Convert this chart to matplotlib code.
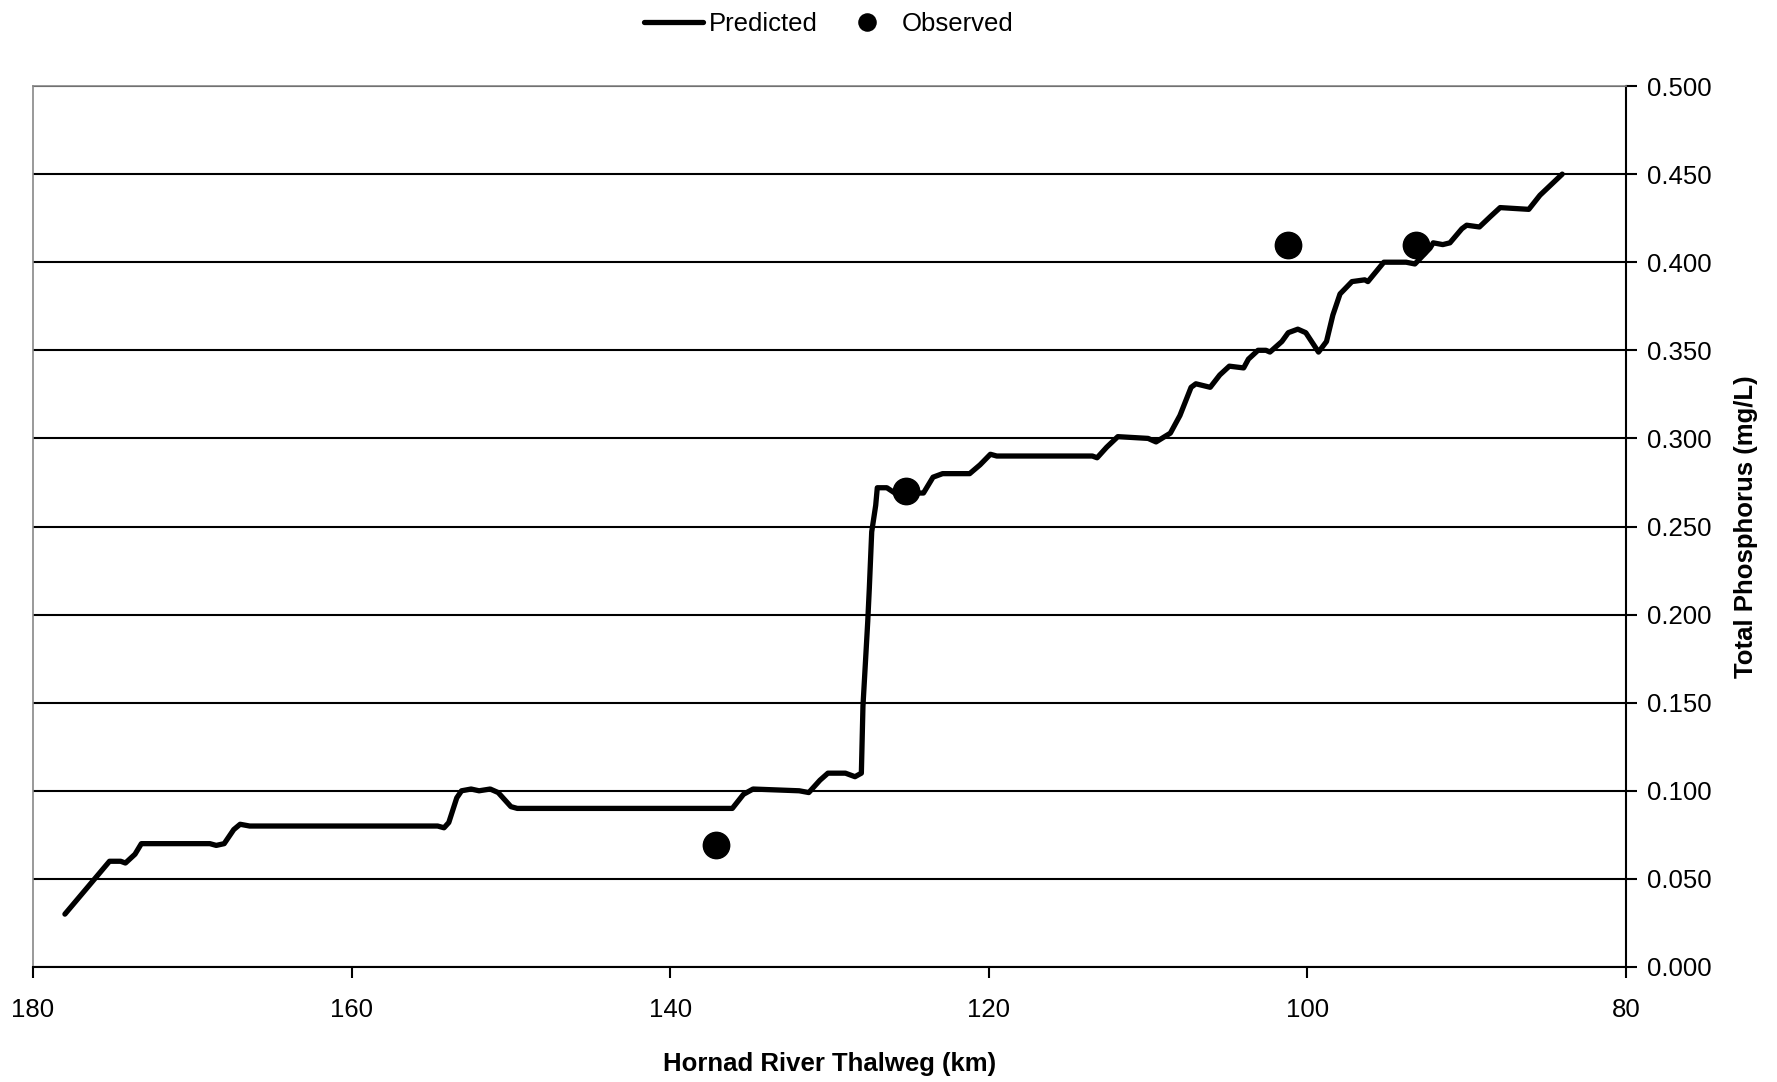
import matplotlib
matplotlib.use('Agg')
import matplotlib.pyplot as plt
from matplotlib.ticker import FormatStrFormatter

plt.rcParams['font.family'] = ['Liberation Sans', 'DejaVu Sans']

# predicted total phosphorus along the thalweg (km, mg/L)
pred_km = [178.0, 175.2, 174.5, 174.2, 173.6, 173.2, 168.9, 168.5, 168.0, 167.4,
           167.0, 166.4, 154.6, 154.2, 153.9, 153.4, 153.1, 152.5, 152.0, 151.3,
           150.8, 150.0, 149.6, 136.1, 135.4, 134.8, 131.9, 131.3, 130.6, 130.1,
           129.0, 128.4, 128.0, 127.9, 127.6, 127.5, 127.35, 127.1, 127.0, 126.4,
           125.9, 124.1, 123.5, 122.9, 121.2, 120.55, 119.9, 119.5, 113.5, 113.2,
           112.6, 111.9, 110.0, 109.5, 108.6, 108.0, 107.3, 107.0, 106.1, 105.5,
           104.9, 104.0, 103.7, 103.1, 102.6, 102.35, 101.6, 101.2, 100.6, 100.1,
           99.3, 98.8, 98.4, 97.95, 97.2, 96.4, 96.2, 95.2, 93.8, 93.25,
           92.3, 92.1, 91.5, 91.05, 90.3, 90.0, 89.2, 88.5, 87.9, 86.1,
           85.4, 84.0]
pred_tp = [0.030, 0.060, 0.060, 0.059, 0.064, 0.070, 0.070, 0.069, 0.070, 0.078,
           0.081, 0.080, 0.080, 0.079, 0.082, 0.096, 0.100, 0.101, 0.100, 0.101,
           0.099, 0.091, 0.090, 0.090, 0.098, 0.101, 0.100, 0.099, 0.106, 0.110,
           0.110, 0.108, 0.110, 0.148, 0.196, 0.215, 0.247, 0.262, 0.272, 0.272,
           0.269, 0.269, 0.278, 0.280, 0.280, 0.285, 0.291, 0.290, 0.290, 0.289,
           0.295, 0.301, 0.300, 0.298, 0.303, 0.313, 0.329, 0.331, 0.329, 0.336,
           0.341, 0.340, 0.345, 0.350, 0.350, 0.349, 0.355, 0.360, 0.362, 0.360,
           0.349, 0.355, 0.370, 0.382, 0.389, 0.390, 0.389, 0.400, 0.400, 0.399,
           0.408, 0.411, 0.410, 0.411, 0.419, 0.421, 0.420, 0.426, 0.431, 0.430,
           0.438, 0.450]

# observed samples
obs_km = [137.1, 125.2, 101.2, 93.2]
obs_tp = [0.069, 0.270, 0.410, 0.410]

fig = plt.figure(figsize=(17.77, 10.82), dpi=100)
ax = fig.add_axes([0.0186, 0.1063, 0.8964, 0.8142])

ax.plot(pred_km, pred_tp, 'k-', lw=3.8, solid_joinstyle='round',
        solid_capstyle='round', label='Predicted', zorder=3)
ax.plot(obs_km, obs_tp, 'ko', ms=19, ls='none', label='Observed', zorder=4)

ax.set_xlim([180, 80])
ax.set_ylim([0, 0.5])
ax.set_xticks([180, 160, 140, 120, 100, 80])
ax.set_yticks([i * 0.05 for i in range(11)])
ax.yaxis.set_major_formatter(FormatStrFormatter('%.3f'))
ax.yaxis.tick_right()
ax.yaxis.set_label_position('right')
ax.grid(axis='y', color='black', lw=1.5)
ax.set_axisbelow(True)

ax.tick_params(axis='both', direction='out', length=8, width=1.5,
               labelsize=18.5, color='black')
ax.tick_params(axis='x', pad=14)
ax.tick_params(axis='y', pad=7)

ax.spines['left'].set_color('#888888')
ax.spines['top'].set_color('#888888')
ax.spines['left'].set_linewidth(1.2)
ax.spines['top'].set_linewidth(1.2)
ax.spines['right'].set_linewidth(1.5)
ax.spines['bottom'].set_linewidth(1.5)

ax.set_xlabel('Hornad River Thalweg (km)', fontsize=18.5, fontweight='bold', labelpad=22)
ax.set_ylabel('Total Phosphorus (mg/L)', fontsize=18.5, fontweight='bold', labelpad=16)

fig.legend(loc='upper center', bbox_to_anchor=(0.4665, 1.01), ncol=2, frameon=False,
           fontsize=18.5, handlelength=2.3, columnspacing=0.8, handletextpad=0.2,
           markerscale=0.65)

plt.savefig('out.png', dpi=100)
plt.close()
